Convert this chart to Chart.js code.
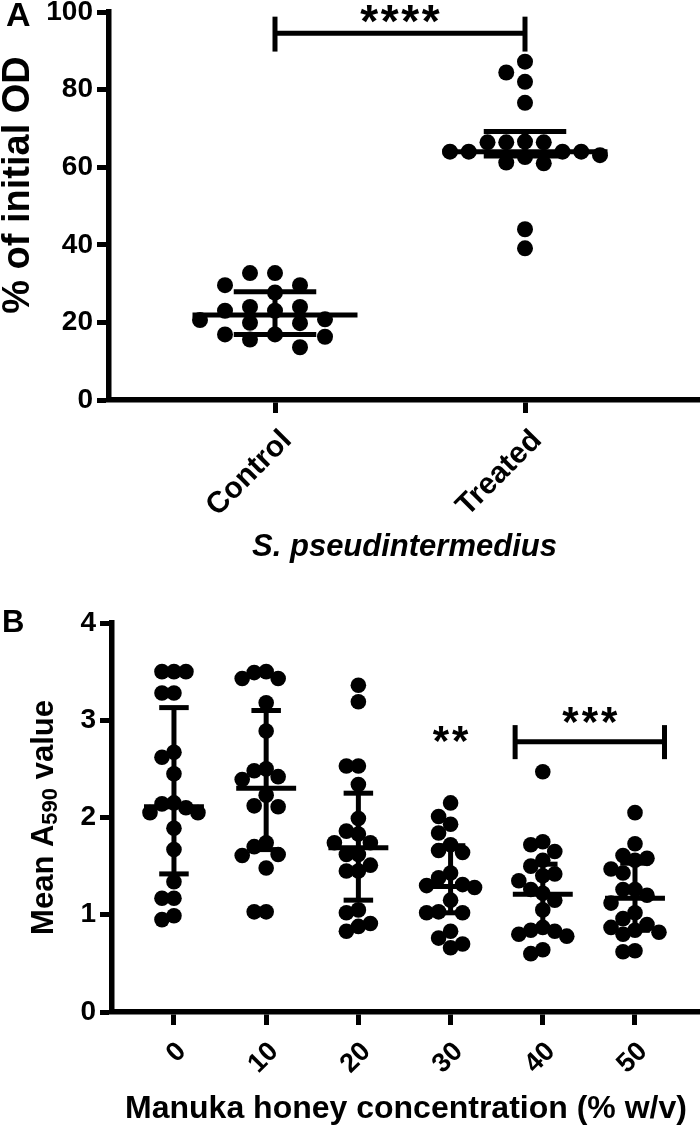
<!DOCTYPE html>
<html>
<head>
<meta charset="utf-8">
<script src="https://cdn.jsdelivr.net/npm/chart.js@4.4.1/dist/chart.umd.min.js"></script>
<style>
  html, body { margin: 0; padding: 0; background: #fff; }
  #wrapA { position: absolute; left: 0; top: 0; width: 700px; height: 590px; }
  #wrapB { position: absolute; left: 0; top: 590px; width: 700px; height: 540px; }
</style>
</head>
<body>
<div id="wrapA"><canvas id="chartA" width="700" height="590"></canvas></div>
<div id="wrapB"><canvas id="chartB" width="700" height="540"></canvas></div>
<script>
    // Panel A - % of initial OD
    const groupsA = ['Control', 'Treated'];
    const controlA = [32.7, 32.7, 29.6, 29.6, 27.7, 24.0, 24.0, 23.0, 23.0, 20.8, 20.6, 19.9, 19.8, 16.9, 16.9, 16.3, 15.6, 13.6];
    const treatedA = [87.2, 84.4, 82.0, 76.6, 66.6, 66.4, 66.4, 66.4, 64.0, 64.0, 64.0, 64.0, 63.1, 62.6, 61.2, 61.0, 44.0, 39.1];
    const medianA = [21.9, 64.0];
    const q3A = [27.9, 69.2];
    const q1A = [16.9, 62.9];
    const yTicksA = [0, 20, 40, 60, 80, 100];

    // Panel B - Mean A590 value by manuka honey concentration
    const concB = ['0', '10', '20', '30', '40', '50'];
    const conc0 = [3.50, 3.50, 3.50, 3.28, 3.28, 2.67, 2.62, 2.45, 2.15, 2.14, 2.10, 2.05, 2.05, 1.89, 1.67, 1.34, 1.17, 1.17, 0.99, 0.95];
    const conc10 = [3.50, 3.49, 3.43, 3.43, 3.18, 2.89, 2.50, 2.48, 2.42, 2.39, 2.23, 2.12, 2.11, 1.74, 1.70, 1.62, 1.61, 1.48, 1.03, 1.03];
    const conc20 = [3.36, 3.19, 2.53, 2.53, 2.34, 1.99, 1.86, 1.83, 1.74, 1.74, 1.62, 1.62, 1.51, 1.45, 1.45, 1.05, 1.02, 0.91, 0.88, 0.83];
    const conc30 = [2.15, 2.01, 1.93, 1.84, 1.72, 1.66, 1.64, 1.43, 1.38, 1.31, 1.30, 1.28, 1.15, 1.03, 1.02, 1.02, 0.83, 0.76, 0.70, 0.66];
    const conc40 = [2.47, 1.75, 1.72, 1.65, 1.56, 1.50, 1.42, 1.40, 1.35, 1.26, 1.22, 1.15, 1.05, 0.87, 0.84, 0.83, 0.80, 0.78, 0.64, 0.60];
    const conc50 = [2.05, 1.73, 1.61, 1.58, 1.56, 1.47, 1.43, 1.26, 1.26, 1.20, 1.12, 1.02, 0.96, 0.90, 0.87, 0.84, 0.82, 0.80, 0.63, 0.62];
    const medianB = [2.11, 2.30, 1.69, 1.29, 1.21, 1.17];
    const q3B = [3.13, 3.10, 2.25, 1.71, 1.52, 1.53];
    const q1B = [1.42, 1.67, 1.15, 1.02, 0.85, 0.84];
    const yTicksB = [0, 1, 2, 3, 4];

    const FONT = "'Liberation Sans', Arial, sans-serif";

    // scatter dot plot layout: each dot goes to the lane nearest the centre that is free
    function swarm(values, center, minGap, halfWidth, maxLaneW) {
        const placed = [];
        const order = values.map((v, i) => i).sort((a, b) => values[b] - values[a]);
        order.forEach(i => {
            const v = values[i];
            for (let k = 0; ; k++) {
                const lane = k === 0 ? 0 : (k % 2 ? -Math.ceil(k / 2) : k / 2);
                if (!placed.some(p => p.lane === lane && Math.abs(p.v - v) < minGap)) {
                    placed.push({ v: v, lane: lane });
                    break;
                }
            }
        });
        const maxLane = Math.max(1, ...placed.map(p => Math.abs(p.lane)));
        const w = Math.min(maxLaneW, halfWidth / maxLane);
        return placed.map(p => ({ x: center + p.lane * w, y: p.v }));
    }

    function lineSet(data) {
        return {
            type: 'line', data: data, borderColor: '#000', borderWidth: 5,
            pointRadius: 0, borderCapStyle: 'butt', fill: false, tension: 0, order: 0
        };
    }

    function summarySets(medians, q1s, q3s, medHalf, barHalf) {
        const sets = [];
        medians.forEach((m, i) => {
            sets.push(lineSet([{ x: i - medHalf, y: m }, { x: i + medHalf, y: m }]));
            sets.push(lineSet([{ x: i - barHalf, y: q3s[i] }, { x: i + barHalf, y: q3s[i] }]));
            sets.push(lineSet([{ x: i - barHalf, y: q1s[i] }, { x: i + barHalf, y: q1s[i] }]));
            sets.push(lineSet([{ x: i, y: q1s[i] }, { x: i, y: q3s[i] }]));
        });
        return sets;
    }

    function bracketSets(x1, x2, yMid, yLow, yHigh) {
        return [
            lineSet([{ x: x1, y: yLow }, { x: x1, y: yHigh }]),
            lineSet([{ x: x1, y: yMid }, { x: x2, y: yMid }]),
            lineSet([{ x: x2, y: yLow }, { x: x2, y: yHigh }])
        ];
    }

    function dotSet(points, r) {
        return {
            type: 'scatter', data: points, backgroundColor: '#000', borderWidth: 0,
            pointRadius: r, pointHoverRadius: r, order: 1
        };
    }

    // text centred on its ink box
    function drawCentered(ctx, text, font, cx, cy, spacing) {
        ctx.font = font;
        ctx.letterSpacing = (spacing || 0) + 'px';
        const m = ctx.measureText(text);
        const w = m.width - (spacing || 0);
        ctx.textAlign = 'left';
        ctx.textBaseline = 'alphabetic';
        ctx.fillText(text, cx - w / 2, cy + (m.actualBoundingBoxAscent - m.actualBoundingBoxDescent) / 2);
        ctx.letterSpacing = '0px';
    }

    function axisX(cats, min, max, tickSize, height, offset, pad) {
        return {
            type: 'linear', min: min, max: max,
            afterBuildTicks: s => { s.ticks = cats.map((c, i) => ({ value: i })); },
            ticks: {
                callback: v => cats[v], color: '#000', autoSkip: false,
                minRotation: 45, maxRotation: 45, padding: pad, labelOffset: offset,
                font: { family: FONT, size: tickSize, weight: 'bold' }
            },
            grid: { drawOnChartArea: false, drawTicks: true, tickLength: 13, tickWidth: 5, tickColor: '#000' },
            border: { display: true, color: '#000', width: 5.5 },
            afterFit: s => { s.height = height; s.paddingLeft = 0; s.paddingRight = 0; }
        };
    }

    function axisY(tickVals, max, width) {
        return {
            type: 'linear', min: 0, max: max,
            afterBuildTicks: s => { s.ticks = tickVals.map(v => ({ value: v })); },
            ticks: { color: '#000', padding: 4, font: { family: FONT, size: 28, weight: 'bold' } },
            grid: { drawOnChartArea: false, drawTicks: true, tickLength: 12, tickWidth: 5, tickColor: '#000' },
            border: { display: true, color: '#000', width: 5.5 },
            afterFit: s => { s.width = width; s.paddingTop = 0; s.paddingBottom = 0; }
        };
    }

    const baseOptions = {
        responsive: false,
        animation: false,
        events: [],
        plugins: { legend: { display: false }, tooltip: { enabled: false } }
    };

    // Chart A
    const textA = {
        id: 'textA',
        afterDraw(chart) {
            const ctx = chart.ctx, sx = chart.scales.x, sy = chart.scales.y;
            ctx.save();
            ctx.fillStyle = '#000';
            ctx.font = 'bold 34px ' + FONT;
            ctx.textAlign = 'left';
            ctx.textBaseline = 'alphabetic';
            ctx.fillText('A', 6, 26);
            drawCentered(ctx, '****', 'bold 46px ' + FONT, sx.getPixelForValue(0.5), sy.getPixelForValue(99.6), 2.6);
            drawCentered(ctx, 'S. pseudintermedius', 'italic bold 31px ' + FONT,
                (chart.chartArea.left + chart.chartArea.right) / 2, 548);
            ctx.translate(15, 185);
            ctx.rotate(-Math.PI / 2);
            drawCentered(ctx, '% of initial OD', 'bold 38px ' + FONT, 0, 0);
            ctx.restore();
        }
    };

    const configA = {
        type: 'scatter',
        data: {
            datasets: [
                dotSet(swarm(controlA, 0, 3.7, 0.30, 0.10), 8),
                dotSet(swarm(treatedA, 1, 3.7, 0.30, 0.10), 8),
                ...summarySets(medianA, q1A, q3A, 0.33, 0.165),
                ...bracketSets(0, 1, 94.5, 89.8, 98.8)
            ]
        },
        options: Object.assign({}, baseOptions, {
            layout: { autoPadding: false, padding: { top: 12, left: 0, right: 0, bottom: 0 } },
            scales: {
                x: axisX(groupsA, -0.664, 1.70, 30, 190, 12, 10),
                y: axisY(yTicksA, 100, 109)
            }
        }),
        plugins: [textA]
    };

    // Chart B
    const textB = {
        id: 'textB',
        afterDraw(chart) {
            const ctx = chart.ctx, sx = chart.scales.x, sy = chart.scales.y;
            ctx.save();
            ctx.fillStyle = '#000';
            ctx.font = 'bold 31px ' + FONT;
            ctx.textAlign = 'left';
            ctx.textBaseline = 'alphabetic';
            ctx.fillText('B', 2, 42);
            drawCentered(ctx, '**', 'bold 42px ' + FONT, sx.getPixelForValue(3), sy.getPixelForValue(2.86), 3);
            drawCentered(ctx, '***', 'bold 42px ' + FONT, sx.getPixelForValue(4.51), sy.getPixelForValue(3.05), 3);
            drawCentered(ctx, 'Manuka honey concentration (% w/v)', 'bold 32px ' + FONT,
                (chart.chartArea.left + chart.chartArea.right) / 2, 520);
            // y title with subscript
            ctx.translate(42, (chart.chartArea.top + chart.chartArea.bottom) / 2);
            ctx.rotate(-Math.PI / 2);
            const big = 'bold 31px ' + FONT, small = 'bold 22px ' + FONT;
            ctx.font = big;
            const w1 = ctx.measureText('Mean A').width;
            const w3 = ctx.measureText(' value').width;
            ctx.font = small;
            const w2 = ctx.measureText('590').width;
            let x = -(w1 + w2 + w3) / 2;
            const base = 11;
            ctx.font = big;
            ctx.fillText('Mean A', x, base);
            x += w1;
            ctx.font = small;
            ctx.fillText('590', x, base + 4);
            x += w2;
            ctx.font = big;
            ctx.fillText(' value', x, base);
            ctx.restore();
        }
    };

    const dotsB = [conc0, conc10, conc20, conc30, conc40, conc50].map((vals, i) =>
        dotSet(swarm(vals, i, 0.154, 0.26, 0.163), 7.8));

    const configB = {
        type: 'scatter',
        data: {
            datasets: [
                ...dotsB,
                ...summarySets(medianB, q1B, q3B, 0.325, 0.16),
                ...bracketSets(3.70, 5.32, 2.78, 2.60, 2.95)
            ]
        },
        options: Object.assign({}, baseOptions, {
            layout: { autoPadding: false, padding: { top: 33, left: 0, right: 0, bottom: 0 } },
            scales: {
                x: axisX(concB, -0.672, 5.705, 27, 118, 8, 11),
                y: axisY(yTicksB, 4, 112)
            }
        }),
        plugins: [textB]
    };

    const chartA = new Chart(document.getElementById('chartA').getContext('2d'), configA);
    const chartB = new Chart(document.getElementById('chartB').getContext('2d'), configB);
</script>
</body>
</html>
